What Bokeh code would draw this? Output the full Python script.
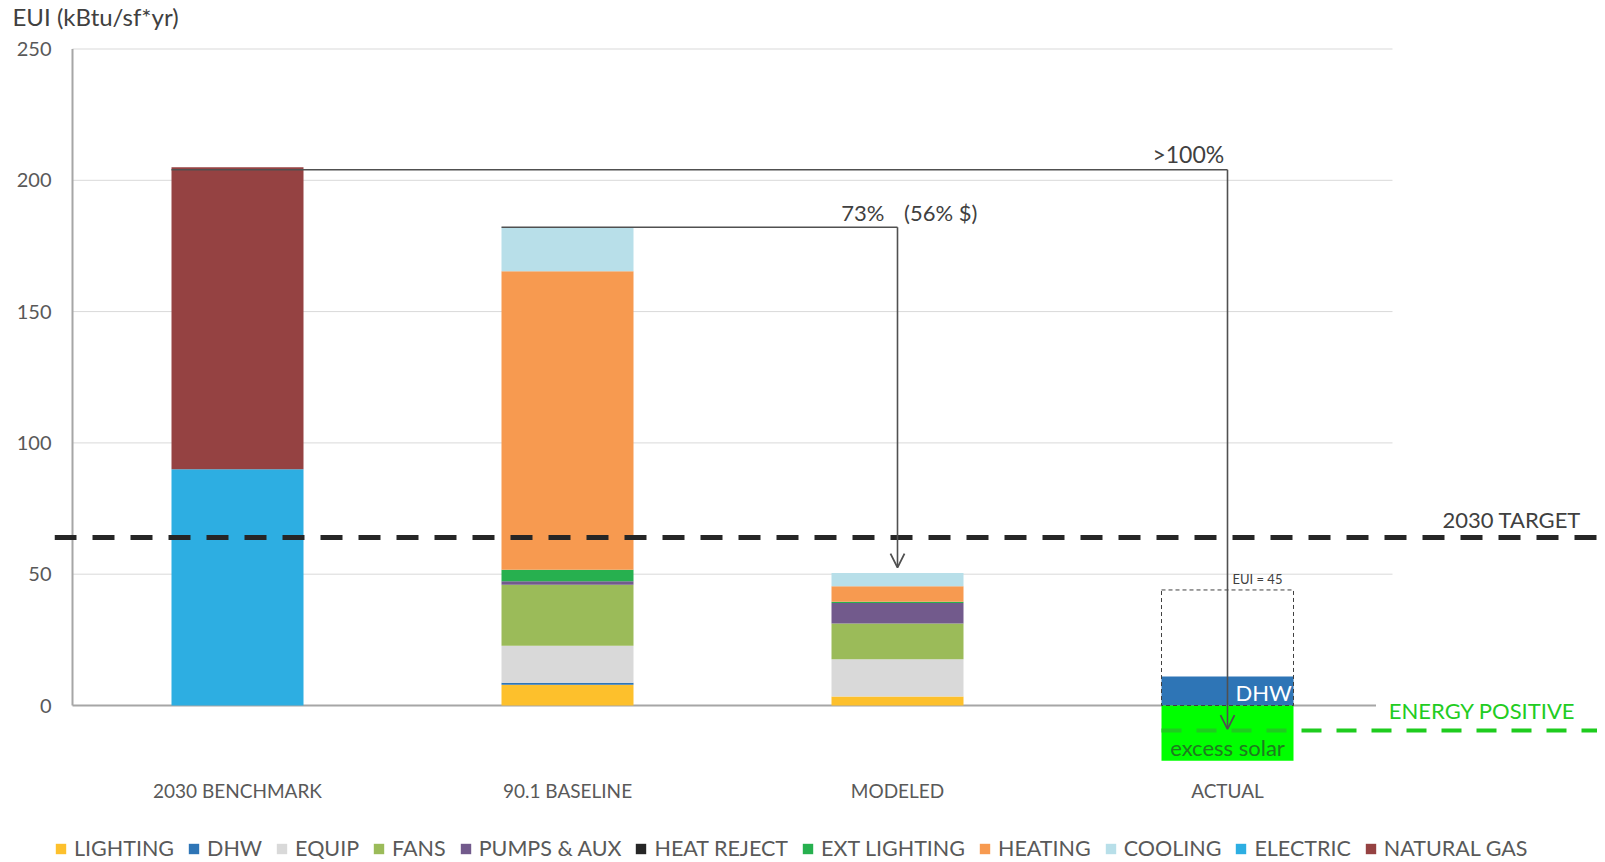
from bokeh.plotting import figure
from bokeh.models import (ColumnDataSource, Range1d, FixedTicker, Legend, LegendItem,
                          Arrow, OpenHead, Label, Span)
from bokeh.core.properties import value
from bokeh.embed import file_html
from bokeh.resources import INLINE

# ---------------- data ----------------
categories   = ["2030 BENCHMARK", "90.1 BASELINE", "MODELED", "ACTUAL"]
lighting     = [0, 7.9, 3.4, 0]
dhw          = [0, 0.8, 0, 11]
equip        = [0, 14.1, 14.2, 0]
fans         = [0, 23.2, 13.6, 0]
pumps_aux    = [0, 1.3, 7.8, 0]
heat_reject  = [0, 0, 0, 0]
ext_lighting = [0, 4.4, 0.5, 0]
heating      = [0, 113.7, 5.9, 0]
cooling      = [0, 16.7, 5.1, 0]
electric     = [90, 0, 0, 0]
natural_gas  = [115, 0, 0, 0]
excess_solar = [0, 0, 0, -21]

series_keys  = ["lighting", "dhw", "equip", "fans", "pumps_aux", "heat_reject",
                "ext_lighting", "heating", "cooling", "electric", "natural_gas"]
series_names = ["LIGHTING", "DHW", "EQUIP", "FANS", "PUMPS & AUX", "HEAT REJECT",
                "EXT LIGHTING", "HEATING", "COOLING", "ELECTRIC", "NATURAL GAS"]
series_colors = ["#FDC02C", "#2E75B6", "#D9D9D9", "#9BBB59", "#725A8C", "#262626",
                 "#27B04F", "#F79A50", "#B8DFE9", "#2DAEE2", "#954242"]

y_ticks = [0, 50, 100, 150, 200, 250]
target_2030 = 64
energy_positive = -9.5
actual_eui = 45
actual_box_top = 44
bracket_benchmark = 204      # >100% reduction bracket level
bracket_baseline = 182.1     # 73% reduction bracket level
arrow_tip_actual = -9
arrow_tip_modeled = 52.5

FONT = "Lato"
GRAY_TXT = "#595959"
DARK_TXT = "#404040"
LINE_C = "#505050"

data = dict(x=list(range(len(categories))), excess=excess_solar)
for k, v in zip(series_keys, [lighting, dhw, equip, fans, pumps_aux, heat_reject,
                              ext_lighting, heating, cooling, electric, natural_gas]):
    data[k] = v
source = ColumnDataSource(data)

# pixel geometry (screen px): frame left 54, x=-0.5 at 72, 330 px per category
W, H = 1597, 862
FRAME_L, FRAME_T = 54, 33
px_per_cat = 330.0
x_start = -0.5 - (72 - FRAME_L) / px_per_cat
x_end = -0.5 + (W - 72) / px_per_cat
px_per_unit = 2.626
y_end = (705 - FRAME_T) / px_per_unit
y_start = (705 - H) / px_per_unit

p = figure(width=W, height=H, output_backend="svg", toolbar_location=None,
           x_range=Range1d(x_start, x_end), y_range=Range1d(y_start, y_end),
           x_axis_location=None, y_axis_location="left",
           min_border_left=FRAME_L, min_border_right=0, min_border_top=FRAME_T, min_border_bottom=0)
p.outline_line_color = None
p.xgrid.visible = False
p.ygrid.visible = False

p.title.text = "EUI (kBtu/sf*yr)"
p.title.align = "left"
p.title.vertical_align = "top"
p.title.offset = 12 - FRAME_L
p.title.standoff = 2
p.title.text_font = FONT
p.title.text_font_size = "24px"
p.title.text_font_style = "normal"
p.title.text_color = DARK_TXT

ax = p.yaxis[0]
ax.ticker = FixedTicker(ticks=y_ticks)
ax.axis_line_color = None
ax.major_tick_line_color = None
ax.minor_tick_line_color = None
ax.major_tick_out = 0
ax.major_tick_in = 0
ax.major_label_standoff = 3
ax.major_label_text_font = FONT
ax.major_label_text_font_size = "20px"
ax.major_label_text_color = GRAY_TXT

# gridlines (only over the category area)
grid_y = y_ticks[1:]
p.segment(x0=[-0.5] * len(grid_y), y0=grid_y, x1=[len(categories) - 0.5] * len(grid_y), y1=grid_y,
          line_color="#D9D9D9", line_width=1)
# axis lines
p.segment(x0=[-0.5], y0=[y_ticks[0]], x1=[-0.5], y1=[y_ticks[-1]], line_color="#A6A6A6", line_width=2)
p.segment(x0=[-0.5], y0=[0], x1=[len(categories) - 0.55], y1=[0], line_color="#A6A6A6", line_width=2)

# stacked bars
bar_w = 0.4
renderers = p.vbar_stack(series_keys, x="x", width=bar_w, color=series_colors, source=source,
                         line_color=None)
p.vbar(x="x", top=0, bottom="excess", width=bar_w, source=source, color="#00FF00", line_color=None)

# 2030 target dashed line
p.add_layout(Span(location=target_2030, dimension="width", line_color="#262626",
                  line_width=5, line_dash="22 16"))

# energy positive green dashed line
ia = len(categories) - 1
p.ray(x=[ia - bar_w / 2], y=[energy_positive], length=0, angle=0,
      line_color="#1ECC1E", line_width=4, line_dash="20 15")

# dashed EUI box on actual
p.quad(left=[ia - bar_w / 2], right=[ia + bar_w / 2], bottom=[0], top=[actual_box_top],
       fill_alpha=0, line_color=DARK_TXT, line_width=1, line_dash="4 3")

# brackets
p.line(x=[0 - bar_w / 2, ia], y=[bracket_benchmark, bracket_benchmark], line_color=LINE_C, line_width=1.6)
p.add_layout(Arrow(x_start=ia, y_start=bracket_benchmark, x_end=ia, y_end=arrow_tip_actual,
                   line_color=LINE_C, line_width=1.6,
                   end=OpenHead(size=14, line_color=LINE_C, line_width=1.8)))
p.line(x=[1 - bar_w / 2, 2], y=[bracket_baseline, bracket_baseline], line_color=LINE_C, line_width=1.6)
p.add_layout(Arrow(x_start=2, y_start=bracket_baseline, x_end=2, y_end=arrow_tip_modeled,
                   line_color=LINE_C, line_width=1.6,
                   end=OpenHead(size=14, line_color=LINE_C, line_width=1.8)))

# category labels
p.text(x=list(range(len(categories))), y=[-32.4] * len(categories), text=categories,
       text_align="center", text_baseline="middle", text_font=value(FONT),
       text_font_size="19px", text_color=GRAY_TXT)

def lab(x, y, text, size="22px", color=DARK_TXT, align="left", baseline="bottom"):
    p.add_layout(Label(x=x, y=y, text=text, text_font=FONT, text_font_size=size,
                       text_color=color, text_align=align, text_baseline=baseline))

lab(ia - 0.01, bracket_benchmark + 0.5, ">100%", size="23px", align="right")
lab(2 - 0.04, bracket_baseline + 0.5, "73%", align="right")
lab(2 + 0.02, bracket_baseline + 0.5, "(56% $)", align="left")
lab(x_end - 0.05, target_2030 + 1.5, "2030 TARGET", align="right")
lab(x_end - 0.05, -2, "ENERGY  POSITIVE", color="#22CC22", align="right", baseline="middle")
lab(ia + bar_w / 2 - 0.005, 4.9, "DHW", color="white", align="right", baseline="middle")
lab(ia, -15.9, "excess solar", color="#1F7A1F", align="center", baseline="middle")
lab(ia + 0.015, actual_box_top + 1, f"EUI = {actual_eui}", size="13px", align="left", baseline="bottom")

# legend
items = [LegendItem(label=n, renderers=[r]) for n, r in zip(series_names, renderers)]
legend = Legend(items=items, orientation="horizontal", location=(0, 1),
                glyph_width=13, glyph_height=13, label_standoff=7, spacing=13,
                padding=0, margin=0, label_height=20,
                label_text_font=FONT, label_text_font_size="21.5px", label_text_color=GRAY_TXT,
                background_fill_alpha=0, border_line_alpha=0)
p.add_layout(legend)

open("out.html", "w").write(file_html(p, INLINE))
